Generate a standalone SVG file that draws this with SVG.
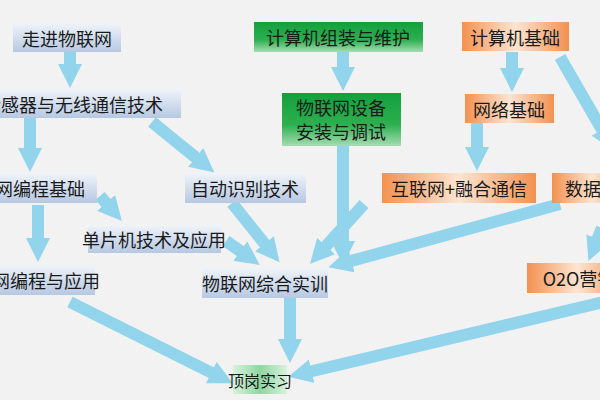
<svg xmlns="http://www.w3.org/2000/svg" width="600" height="400" viewBox="0 0 600 400">
<defs>
<style>
text{font-family:"Noto Sans CJK SC","Noto Sans",sans-serif;font-size:18px;fill:#1a1a1a;text-anchor:middle;dominant-baseline:central}
.b{fill:url(#gb)}.g{fill:url(#gg)}.o{fill:url(#go)}.lg{fill:url(#glg)}
.a line{stroke:#92d4ec;stroke-width:12;marker-end:url(#ah)}
</style>
<linearGradient id="gb" x1="0" y1="0" x2="0" y2="1"><stop offset="0" stop-color="#f0f4fa"/><stop offset="1" stop-color="#b6c8e2"/></linearGradient>
<linearGradient id="gg" x1="0" y1="0" x2="0" y2="1"><stop offset="0" stop-color="#12a03c"/><stop offset="0.6" stop-color="#2eb050"/><stop offset="1" stop-color="#a6dcb2"/></linearGradient>
<linearGradient id="glg" x1="0" y1="0" x2="1" y2="0"><stop offset="0" stop-color="#d8f2dd"/><stop offset="0.5" stop-color="#8fd6a0"/><stop offset="1" stop-color="#d8f2dd"/></linearGradient>
<linearGradient id="go" x1="0" y1="0" x2="1" y2="0"><stop offset="0" stop-color="#f39150"/><stop offset="0.5" stop-color="#fde5d2"/><stop offset="1" stop-color="#f39150"/></linearGradient>
<marker id="ah" viewBox="0 0 2 2" markerWidth="2" markerHeight="2" refX="1" refY="1" orient="auto" markerUnits="strokeWidth"><path d="M0,0L2,1L0,2z" fill="#92d4ec"/></marker>
</defs>
<rect width="600" height="400" fill="#f2f2f2"/>
<g id="connectors" class="a">
<line x1="70" y1="52" x2="70" y2="76"/>
<line x1="30" y1="118" x2="30" y2="160"/>
<line x1="152" y1="122" x2="205" y2="165"/>
<line x1="100" y1="196" x2="114" y2="212"/>
<line x1="38" y1="205" x2="38" y2="250"/>
<line x1="226" y1="241" x2="250" y2="258"/>
<line x1="232" y1="203" x2="272" y2="253"/>
<line x1="343" y1="146" x2="343" y2="253"/>
<line x1="364" y1="204" x2="318" y2="255"/>
<line x1="560" y1="204" x2="340" y2="264"/>
<line x1="512" y1="52" x2="512" y2="80"/>
<line x1="477" y1="123" x2="477" y2="159"/>
<line x1="343" y1="52" x2="343" y2="79"/>
<line x1="560" y1="57" x2="608" y2="140"/>
<line x1="602" y1="228" x2="593" y2="250"/>
<line x1="70" y1="302" x2="222" y2="378"/>
<line x1="290" y1="298" x2="290" y2="351"/>
<line x1="604" y1="302" x2="300" y2="374"/>
</g>
<g id="n1"><rect class="b" x="13" y="23" width="108" height="29"/><text x="67" y="38">走进物联网</text></g>
<g id="n2"><rect class="b" x="-2" y="89" width="183" height="29"/><text x="73" y="104">传感器与无线通信技术</text></g>
<g id="n3"><rect class="b" x="-2" y="173" width="99" height="30"/><text x="22" y="188">物联网编程基础</text></g>
<g id="n4"><rect class="b" x="185" y="173" width="121" height="30"/><text x="245" y="188">自动识别技术</text></g>
<g id="n5"><rect class="b" x="88" y="225" width="133" height="28"/><text x="154" y="239">单片机技术及应用</text></g>
<g id="n6"><rect class="b" x="-2" y="265" width="97" height="30"/><text x="28" y="280">物联网编程与应用</text></g>
<g id="n7"><rect class="b" x="202" y="268" width="126" height="30"/><text x="265" y="283">物联网综合实训</text></g>
<g id="n8"><rect class="lg" x="233" y="365" width="54" height="29"/><text x="260" y="380" style="font-size:16px">顶岗实习</text></g>
<g id="n9"><rect class="g" x="254" y="22" width="169" height="30"/><text x="338" y="37">计算机组装与维护</text></g>
<g id="n10"><rect class="g" x="282" y="93" width="119" height="53"/><text x="341" y="107">物联网设备</text><text x="341" y="131">安装与调试</text></g>
<g id="n11"><rect class="o" x="462" y="22" width="107" height="29"/><text x="515" y="37">计算机基础</text></g>
<g id="n12"><rect class="o" x="465" y="94" width="89" height="29"/><text x="509" y="109">网络基础</text></g>
<g id="n13"><rect class="o" x="382" y="173" width="154" height="30"/><text x="459" y="188">互联网+融合通信</text></g>
<g id="n14"><rect class="o" x="552" y="173" width="80" height="30"/><text x="592" y="188">数据库</text></g>
<g id="n15"><rect class="o" x="527" y="263" width="100" height="30"/><text x="579" y="278">O2O营销</text></g>
</svg>
